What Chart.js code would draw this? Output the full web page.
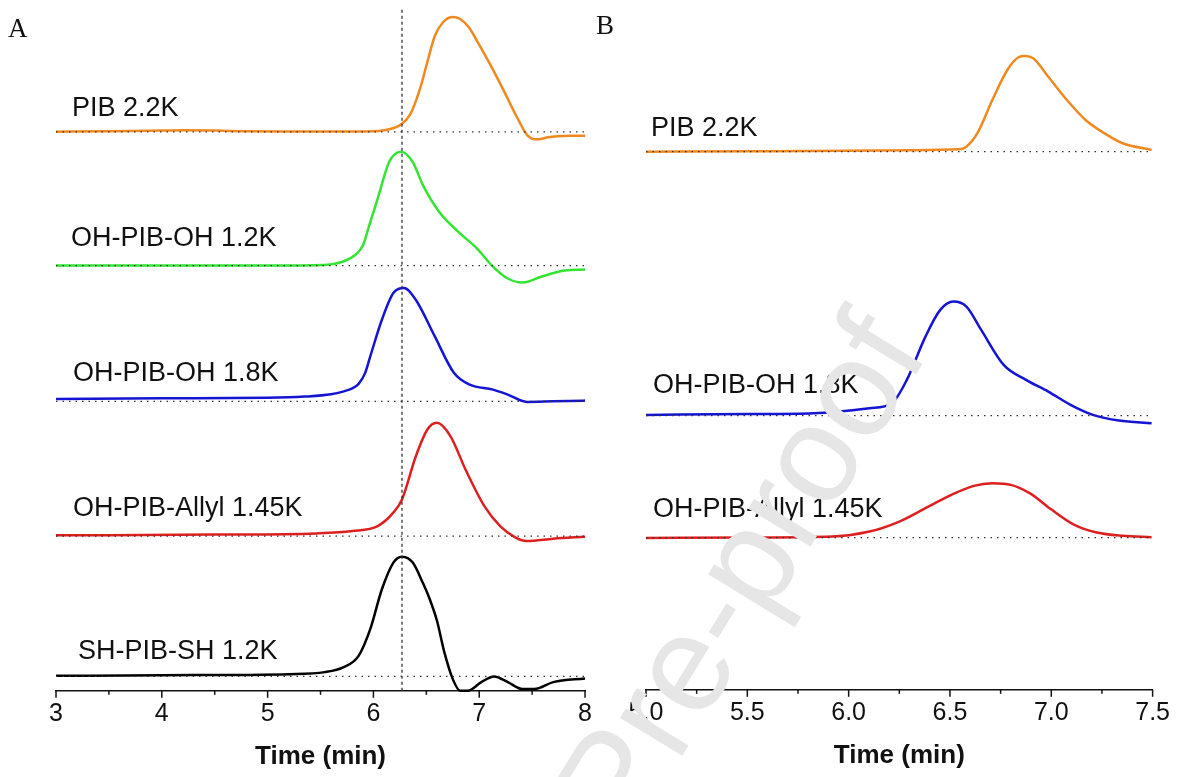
<!DOCTYPE html>
<html>
<head>
<meta charset="utf-8">
<script src="https://cdn.jsdelivr.net/npm/chart.js@4.4.1/dist/chart.umd.min.js"></script>
<style>
  body { margin: 0; background: #fff; width: 1178px; height: 777px; position: relative; overflow: hidden;
         font-family: "Liberation Sans", Arial, sans-serif; }
  .wrap { position: absolute; top: 0; height: 777px; }
  #wrapA { left: 0; width: 600px; }
  #wrapB { left: 590px; width: 588px; }
  .lbl { position: absolute; font-size: 27px; line-height: 27px; white-space: nowrap; color: #111; }
  .panel { position: absolute; font-family: "Liberation Serif", "Times New Roman", serif; font-size: 27px; line-height: 27px; color: #111; }
  #wm { position: absolute; left: 748px; top: 578px; font-size: 138px; line-height: 138px; white-space: nowrap;
        color: #e6e6e6; transform: translate(-50%, -50%) rotate(-58.5deg) translate(0, -11px); z-index: 10; }
</style>
</head>
<body>
<div class="wrap" id="wrapA"><canvas id="chartA" width="600" height="777"></canvas></div>
<div class="wrap" id="wrapB"><canvas id="chartB" width="588" height="777"></canvas></div>
<div class="panel" style="left:8px;top:15px">A</div>
<div class="panel" style="left:596px;top:12px">B</div>
<div id="wm">Pre-proof</div>
<script>
// ---- Panel A: GPC traces (time in min vs. RI signal, arb. units, stacked) ----
const namesA = ['PIB 2.2K', 'OH-PIB-OH 1.2K', 'OH-PIB-OH 1.8K', 'OH-PIB-Allyl 1.45K', 'SH-PIB-SH 1.2K'];
const offsetsA = [560, 426, 290, 155, 14.4];

const pibA_t = [3.0, 3.5, 4.0, 4.2, 4.5, 4.8, 5.2, 5.6, 6.0, 6.1, 6.2, 6.27, 6.35, 6.44, 6.51, 6.58, 6.66, 6.75, 6.82, 6.9, 7.0, 7.09, 7.18, 7.27, 7.33, 7.38, 7.43, 7.47, 7.52, 7.56, 7.65, 7.74, 7.85, 8.0];
const pibA_y = [0, 0.5, 1.2, 1.5, 1.2, 0.5, 0.3, 0.2, 0.5, 1.5, 4, 8, 18, 43, 70, 96, 110, 115, 113, 105, 87, 70, 52, 33, 20, 10, 0, -5, -7.5, -7.5, -5.5, -4.5, -4, -4];

const oh12A_t = [3.0, 4.0, 5.0, 5.54, 5.7, 5.82, 5.9, 5.96, 6.04, 6.15, 6.26, 6.37, 6.47, 6.62, 6.8, 6.98, 7.12, 7.27, 7.41, 7.59, 7.81, 8.0];
const oh12A_y = [0, 0, 0, 0.5, 3.5, 10, 20, 40, 67, 104, 114, 104, 80, 54, 34, 17, 0, -13, -17, -11, -5, -4];

const oh18A_t = [3.0, 4.0, 5.0, 5.35, 5.6, 5.72, 5.8, 5.86, 5.92, 5.97, 6.08, 6.19, 6.29, 6.4, 6.58, 6.76, 6.91, 7.13, 7.27, 7.45, 7.7, 8.0];
const oh18A_y = [2.4, 3, 3.5, 4.7, 7, 10, 13, 17.5, 28, 45, 81.7, 108.7, 113.4, 101.7, 65, 28.7, 16.7, 11.7, 6.7, -0.6, 0, 0.7];

const allylA_t = [3.0, 4.5, 5.46, 5.8, 6.04, 6.19, 6.27, 6.4, 6.51, 6.6, 6.73, 6.87, 7.05, 7.2, 7.34, 7.45, 7.7, 8.0];
const allylA_y = [0.7, 1.5, 2.7, 5, 10, 23.7, 36.7, 79.7, 106.7, 113.4, 99.7, 66.7, 29.7, 9.7, -1.3, -5, -2.6, -0.6];

const shA_t = [3.0, 4.0, 5.21, 5.54, 5.72, 5.86, 5.97, 6.08, 6.19, 6.27, 6.37, 6.47, 6.53, 6.6, 6.67, 6.75, 6.82, 6.89, 7.02, 7.14, 7.27, 7.41, 7.52, 7.7, 8.0];
const shA_y = [0.6, 1.2, 2.3, 4.3, 9.3, 20.6, 47.3, 87.3, 114.3, 120, 114.3, 93, 78, 56, 24.3, -2.7, -14.4, -14.4, -5.7, 0, -5.7, -12.7, -12.7, -5.7, -2];

const ticksA = [3, 4, 5, 6, 7, 8];
const minorA = [3.5, 4.5, 5.5, 6.5, 7.5];
const markerTimeA = 6.27;

// ---- Panel B ----
const namesB = ['PIB 2.2K', 'OH-PIB-OH 1.8K', 'OH-PIB-Allyl 1.45K'];
const offsetsB = [538.3, 274.3, 152.3];

const pibB_t = [5.0, 5.5, 6.0, 6.3, 6.544, 6.581, 6.636, 6.709, 6.783, 6.838, 6.871, 6.911, 6.985, 7.077, 7.169, 7.26, 7.352, 7.495];
const pibB_y = [0, 0.3, 0.8, 1.5, 2.4, 5, 18.7, 51.7, 81.7, 94.4, 95.7, 93.4, 75, 51.7, 31.7, 18.7, 8.4, 1.7];

const oh18B_t = [5.0, 5.5, 5.828, 6.103, 6.213, 6.287, 6.379, 6.452, 6.517, 6.581, 6.654, 6.765, 6.875, 6.985, 7.095, 7.205, 7.334, 7.495];
const oh18B_y = [0.7, 1.5, 2.4, 7.4, 12.4, 35.7, 79, 105.7, 114, 109, 85.7, 50.7, 35.7, 24, 10.7, 0.7, -5, -7.6];

const allylB_t = [5.0, 5.5, 5.92, 6.103, 6.25, 6.379, 6.507, 6.617, 6.709, 6.801, 6.893, 7.003, 7.114, 7.224, 7.352, 7.495];
const allylB_y = [-0.5, 0, 1, 6, 16, 29.4, 42.7, 51.7, 54.4, 52.7, 44.4, 27.7, 12.7, 5, 1.7, 0.4];

const ticksB = [5.0, 5.5, 6.0, 6.5, 7.0, 7.5];
const minorB = [5.25, 5.75, 6.25, 6.75, 7.25];

// styles
const colorsA = ['#f0891f', '#33e433', '#1414d2', '#de1f1f', '#000000'];
const colorsB = ['#f0891f', '#1414d2', '#de1f1f'];
const FONT = '"Liberation Sans", Arial, sans-serif';

function trace(ts, ys, off, color) {
  return {
    data: ts.map((t, i) => ({ x: t, y: ys[i] + off })),
    borderColor: color, borderWidth: 2.5, pointRadius: 0,
    cubicInterpolationMode: 'monotone', fill: false, order: 2
  };
}
function dotted(points, dash) {
  return { data: points, borderColor: '#333', borderWidth: 1.3, borderDash: dash,
           pointRadius: 0, fill: false, order: 1 };
}

// tick marks (major long, minor short) drawn with the x scale
const tickMarks = {
  id: 'tickMarks',
  afterDraw(chart, args, opts) {
    const { ctx, chartArea, scales: { x } } = chart;
    ctx.save();
    ctx.strokeStyle = '#111';
    ctx.lineWidth = 1.5;
    const draw = (vals, len) => vals.forEach(v => {
      const px = x.getPixelForValue(v);
      ctx.beginPath();
      ctx.moveTo(px, chartArea.bottom);
      ctx.lineTo(px, chartArea.bottom + len);
      ctx.stroke();
    });
    draw(opts.major, 7);
    draw(opts.minor, 4);
    ctx.restore();
  }
};

function makeOptions(min, max, ticks, minor, yMax, pad, fmt) {
  return {
    responsive: false, animation: false,
    layout: { padding: pad },
    plugins: { legend: { display: false }, tooltip: { enabled: false }, tickMarks: { major: ticks, minor: minor } },
    scales: {
      x: {
        type: 'linear', min: min, max: max,
        afterBuildTicks: s => { s.ticks = ticks.map(v => ({ value: v })); },
        ticks: { font: { family: FONT, size: 25 }, color: '#111', padding: 8, autoSkip: false, maxRotation: 0, callback: fmt },
        grid: { display: false, drawTicks: false },
        border: { display: true, color: '#111', width: 1.5 },
        title: { display: true, text: 'Time (min)', color: '#111', font: { family: FONT, size: 26, weight: 'bold' }, padding: { top: 4, bottom: 5 } }
      },
      y: { display: false, min: 0, max: yMax }
    }
  };
}

// chart A
const dsA = [];
const seriesA = [[pibA_t, pibA_y], [oh12A_t, oh12A_y], [oh18A_t, oh18A_y], [allylA_t, allylA_y], [shA_t, shA_y]];
seriesA.forEach((s, i) => {
  dsA.push(dotted([{ x: 3, y: offsetsA[i] }, { x: 8, y: offsetsA[i] }], [1.5, 5]));
  dsA.push(trace(s[0], s[1], offsetsA[i], colorsA[i]));
});
dsA.push(dotted([{ x: markerTimeA, y: 0 }, { x: markerTimeA, y: 684 }], [3, 3]));
dsA.forEach(d => d.clip = false);

new Chart(document.getElementById('chartA'), {
  type: 'line',
  data: { datasets: dsA },
  options: makeOptions(3, 8, ticksA, minorA, 684, { left: 56, right: 12, top: 8, bottom: 0 }, v => String(v)),
  plugins: [tickMarks]
});

// chart B
const dsB = [];
const seriesB = [[pibB_t, pibB_y], [oh18B_t, oh18B_y], [allylB_t, allylB_y]];
seriesB.forEach((s, i) => {
  dsB.push(dotted([{ x: 5, y: offsetsB[i] }, { x: 7.5, y: offsetsB[i] }], [1.5, 5]));
  dsB.push(trace(s[0], s[1], offsetsB[i], colorsB[i]));
});
dsB.forEach(d => d.clip = false);

new Chart(document.getElementById('chartB'), {
  type: 'line',
  data: { datasets: dsB },
  options: makeOptions(5, 7.5, ticksB, minorB, 682, { left: 56, right: 18, top: 8, bottom: 1 }, v => v.toFixed(1)),
  plugins: [tickMarks]
});

// series names
const labelPosA = [[72, 94], [71, 224], [73, 359], [73, 494], [78, 637]];
const labelPosB = [[651, 114], [653, 371], [653, 495]];
function addLabels(names, pos) {
  names.forEach((n, i) => {
    const d = document.createElement('div');
    d.className = 'lbl';
    d.textContent = n;
    d.style.left = pos[i][0] + 'px';
    d.style.top = pos[i][1] + 'px';
    document.body.appendChild(d);
  });
}
addLabels(namesA, labelPosA);
addLabels(namesB, labelPosB);
</script>
</body>
</html>
